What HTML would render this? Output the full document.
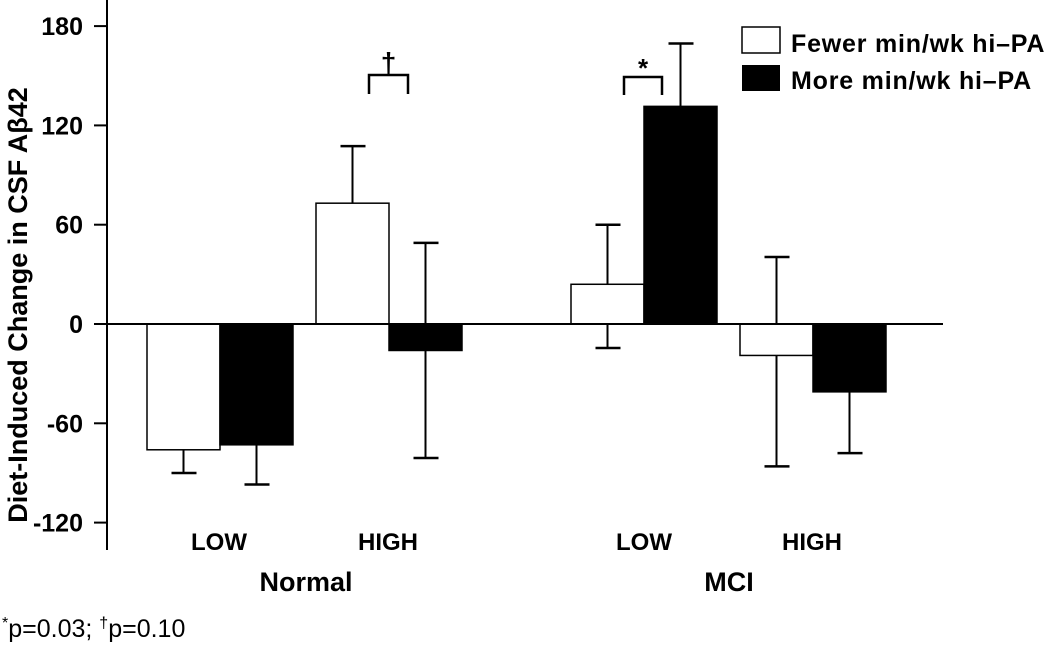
<!DOCTYPE html>
<html><head><meta charset="utf-8"><style>
html,body{margin:0;padding:0;background:#fff;}
svg{display:block;font-family:"Liberation Sans",sans-serif;}
</style></head><body>
<svg id="chart" width="1050" height="646" viewBox="0 0 1050 646"></svg>
<script>
const groups = ["LOW","HIGH","LOW","HIGH"];
const panels = ["Normal","MCI"];
const fewerValues = [-76, 73, 24, -19];
const fewerUpper  = [null, 107.5, 60, 40.5];
const fewerLower  = [-90, null, -14.5, -86];
const moreValues  = [-73, -16, 131.5, -41];
const moreUpper   = [null, 49, 169.5, null];
const moreLower   = [-97, -81, null, -78];
const yTicks = [180, 120, 60, 0, -60, -120];

const NS = "http://www.w3.org/2000/svg";
const svg = document.getElementById("chart");
function mk(tag, attrs, parent){const e=document.createElementNS(NS,tag);for(const k in attrs)e.setAttribute(k,attrs[k]);(parent||svg).appendChild(e);return e;}
const y0 = 324, pxPer = 99.3/60;
function y(v){return y0 - v*pxPer;}
const groupStart = [147, 316, 571, 740];
const bw = 73;
function xBar(i, s){return groupStart[i] + s*bw;}

let e;
e = mk("line",{x1:107,y1:0,x2:107,y2:550,stroke:"#000","stroke-width":2});


yTicks.forEach(t=>{
  const l = mk("line",{x1:94,y1:y(t),x2:107,y2:y(t),stroke:"#000","stroke-width":2});
  
  
  const tx = mk("text",{x:83,y:y(t)+9,"text-anchor":"end","font-size":25,"font-weight":"bold"});
  tx.textContent = t;
  
  
});

function drawBar(i, s, v, up, lo, name){
  const x = xBar(i,s);
  const top = Math.min(y(v), y0), h = Math.abs(y(v)-y0);
  const r = mk("rect",{x:x,y:top,width:bw,height:h,fill:s? "#000":"#fff",stroke:"#000","stroke-width":1.5});
  
  
  const cx = x + bw/2;
  [up, lo].forEach(ev=>{
    if(ev===null) return;
    const g = mk("g",{});
    
    
    mk("line",{x1:cx,y1:ev>v?top:top+h,x2:cx,y2:y(ev),stroke:"#000","stroke-width":2},g);
    mk("line",{x1:cx-12,y1:y(ev),x2:cx+13,y2:y(ev),stroke:"#000","stroke-width":2.5},g);
  });
}
for(let i=0;i<4;i++){
  drawBar(i,0,fewerValues[i],fewerUpper[i],fewerLower[i],'bar-fewer-'+i);
  drawBar(i,1,moreValues[i],moreUpper[i],moreLower[i],'bar-more-'+i);
}
e = mk("line",{x1:94,y1:y0,x2:943,y2:y0,stroke:"#000","stroke-width":2});



const gx = [219, 388, 644, 812];
groups.forEach((g,i)=>{
  const t = mk("text",{x:gx[i],y:550,"text-anchor":"middle","font-size":24,"font-weight":"bold"});
  t.textContent = g;
  
  
});
const px = [306, 729];
panels.forEach((p,i)=>{
  const t = mk("text",{x:px[i],y:591,"text-anchor":"middle","font-size":27,"font-weight":"bold"});
  t.textContent = p;
  
  
});

e = mk("text",{x:0,y:0,transform:"translate(27,305) rotate(-90)","text-anchor":"middle","font-size":27,"font-weight":"bold"});
e.textContent = "Diet-Induced Change in CSF Aβ42";



function bracket(x1,x2,yt,yb,sym,name,fs,dy){
  const g = mk("g",{});
  
  
  mk("polyline",{points:`${x1},${yb} ${x1},${yt} ${x2},${yt} ${x2},${yb}`,fill:"none",stroke:"#000","stroke-width":2.5},g);
  const t = mk("text",{x:(x1+x2)/2,y:yt-dy,"text-anchor":"middle","font-size":fs,"font-weight":"bold"},g);
  t.textContent = sym;
}
bracket(369,408,75,94,"†",'bracket-normal-high',28,3);
bracket(624,662,77,95,"*",'bracket-mci-low',26,0);

e = mk("rect",{x:742,y:27,width:38,height:26,fill:"#fff",stroke:"#000","stroke-width":1.5});


e = mk("rect",{x:742,y:65,width:38,height:26,fill:"#000"});


e = mk("text",{x:791,y:52,"font-size":25,"font-weight":"bold","letter-spacing":0.8});
e.textContent = "Fewer min/wk hi–PA";


e = mk("text",{x:791,y:89,"font-size":25,"font-weight":"bold","letter-spacing":0.8});
e.textContent = "More min/wk hi–PA";



e = mk("text",{x:2,y:637,"font-size":25});
e.innerHTML = '<tspan font-size="16" dy="-9">*</tspan><tspan dy="9">p=0.03; </tspan><tspan font-size="16" dy="-9">†</tspan><tspan dy="9">p=0.10</tspan>';


</script>
</body></html>
